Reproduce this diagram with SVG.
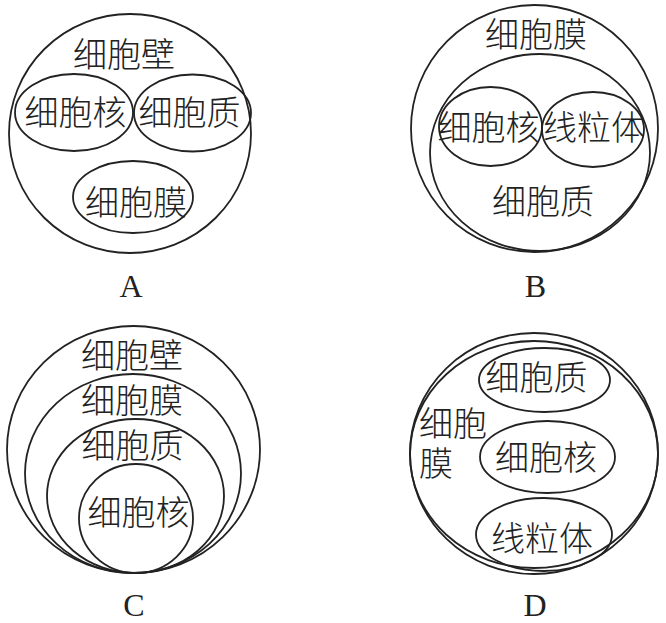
<svg xmlns="http://www.w3.org/2000/svg" width="666" height="623" viewBox="0 0 666 623">
<style>
.s{fill:none;stroke:#222;stroke-width:1.8}
.t{font-family:"Noto Sans CJK SC","Noto Sans",sans-serif;font-size:34px;font-weight:300;fill:#222;text-anchor:middle}
.l{font-family:"Liberation Serif",serif;font-size:32px;fill:#222;text-anchor:middle}
</style>
<rect width="666" height="623" fill="#fff"/>
<g id="A">
<ellipse class="s" cx="130" cy="133.5" rx="121" ry="119.5"/>
<text class="t" x="124" y="67">细胞壁</text>
<g id="A-nucleus"><ellipse class="s" cx="74" cy="112.5" rx="59" ry="38.5"/><text class="t" x="75.5" y="125">细胞核</text></g>
<g id="A-cytoplasm"><ellipse class="s" cx="192.5" cy="113" rx="58.5" ry="38.5"/><text class="t" x="189.5" y="125">细胞质</text></g>
<g id="A-membrane"><ellipse class="s" cx="133" cy="197" rx="60" ry="36"/><text class="t" x="136" y="215">细胞膜</text></g>
<text class="l" x="131" y="297">A</text>
</g>
<g id="B">
<ellipse class="s" cx="534.5" cy="128.5" rx="123.5" ry="123.5"/>
<text class="t" x="536" y="47">细胞膜</text>
<g id="B-cytoplasm"><ellipse class="s" cx="540" cy="152.5" rx="110" ry="98.5"/><text class="t" x="543" y="214">细胞质</text></g>
<g id="B-nucleus"><ellipse class="s" cx="490.5" cy="126.5" rx="51.5" ry="39.5"/><text class="t" x="488.5" y="140">细胞核</text></g>
<g id="B-mito"><ellipse class="s" cx="593" cy="129.5" rx="51" ry="37.5"/><text class="t" x="594" y="140">线粒体</text></g>
<text class="l" x="535.5" y="297">B</text>
</g>
<g id="C">
<g id="C-wall"><ellipse class="s" cx="133.5" cy="449.5" rx="126.5" ry="123.5"/><text class="t" x="132" y="368">细胞壁</text></g>
<g id="C-membrane"><ellipse class="s" cx="133" cy="473.5" rx="108" ry="99.5"/><text class="t" x="132" y="413">细胞膜</text></g>
<g id="C-cytoplasm"><ellipse class="s" cx="135.5" cy="496" rx="88.5" ry="77"/><text class="t" x="132.5" y="458">细胞质</text></g>
<g id="C-nucleus"><ellipse class="s" cx="136" cy="518.5" rx="57" ry="54.5"/><text class="t" x="138.5" y="525">细胞核</text></g>
<text class="l" x="134" y="616">C</text>
</g>
<g id="D">
<ellipse class="s" cx="534" cy="453.5" rx="124" ry="120.5"/>
<ellipse class="s" cx="534" cy="454.5" rx="124" ry="113.5"/>
<text class="t" style="text-anchor:start"><tspan x="419" y="436">细胞</tspan><tspan x="419" y="476">膜</tspan></text>
<g id="D-cytoplasm"><ellipse class="s" cx="544.5" cy="380" rx="65.5" ry="32"/><text class="t" x="536.5" y="390">细胞质</text></g>
<g id="D-nucleus"><ellipse class="s" cx="547.5" cy="457" rx="67.5" ry="36"/><text class="t" x="546" y="470">细胞核</text></g>
<g id="D-mito"><ellipse class="s" cx="544" cy="534.5" rx="68" ry="36.5"/><text class="t" x="542" y="551">线粒体</text></g>
<text class="l" x="535" y="616">D</text>
</g>
</svg>
